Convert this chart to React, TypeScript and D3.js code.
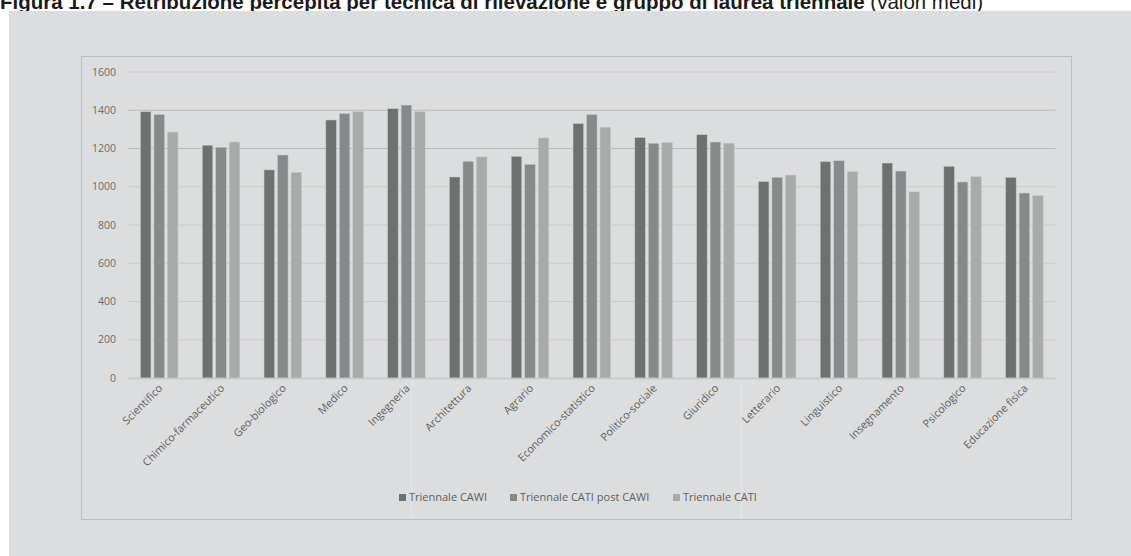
import React, { useEffect, useRef } from "react";
import * as d3 from "d3";

// Gruppi di laurea triennale
const categories: string[] = [
  "Scientifico",
  "Chimico-farmaceutico",
  "Geo-biologico",
  "Medico",
  "Ingegneria",
  "Architettura",
  "Agrario",
  "Economico-statistico",
  "Politico-sociale",
  "Giuridico",
  "Letterario",
  "Linguistico",
  "Insegnamento",
  "Psicologico",
  "Educazione fisica",
];

const seriesNames: string[] = ["Triennale CAWI", "Triennale CATI post CAWI", "Triennale CATI"];

// Retribuzione mensile netta media (euro)
const cawi: number[] = [1392, 1217, 1088, 1349, 1408, 1051, 1159, 1330, 1257, 1272, 1027, 1131, 1124, 1107, 1049];
const catiPostCawi: number[] = [1377, 1206, 1166, 1382, 1427, 1133, 1117, 1377, 1227, 1234, 1049, 1136, 1082, 1025, 967];
const cati: number[] = [1286, 1234, 1075, 1392, 1392, 1156, 1255, 1311, 1232, 1227, 1061, 1079, 973, 1053, 953];

const yTicks: number[] = [0, 200, 400, 600, 800, 1000, 1200, 1400, 1600];

const seriesValues: number[][] = [cawi, catiPostCawi, cati];
const seriesColors: string[] = ["#6d7271", "#878a8a", "#a9aaaa"];

const W = 1131;
const H = 556;

export default function App() {
  const ref = useRef<SVGSVGElement | null>(null);

  useEffect(() => {
    const svg = d3.select(ref.current);
    svg.selectAll("*").remove();

    const font = "'Open Sans', 'DejaVu Sans', sans-serif";

    // Titolo
    const title = svg
      .append("text")
      .attr("x", 0)
      .attr("y", 9)
      .attr("font-family", "'Liberation Sans', Arial, sans-serif")
      .attr("font-size", 20.5)
      .attr("fill", "#1a1a1a");
    title
      .append("tspan")
      .attr("font-weight", "bold")
      .text("Figura 1.7 – Retribuzione percepita per tecnica di rilevazione e gruppo di laurea triennale");
    title.append("tspan").text(" (valori medi)");

    // Pannello di sfondo
    svg.append("rect").attr("x", 9).attr("y", 11).attr("width", W - 9).attr("height", H - 11).attr("fill", "#dcdddf");

    // Riquadro del grafico
    svg
      .append("rect")
      .attr("x", 81.5)
      .attr("y", 56.5)
      .attr("width", 990)
      .attr("height", 463)
      .attr("fill", "#dcdddf")
      .attr("stroke", "#bdbebf")
      .attr("stroke-width", 1);

    const left = 128.3;
    const right = 1055.3;
    const y = d3.scaleLinear().domain([0, 1600]).range([378, 72]);

    const x0 = d3.scaleBand<string>().domain(categories).range([left, right]).paddingInner(0).paddingOuter(0);
    const groupW = 37.5;
    const x1 = d3
      .scaleBand<string>()
      .domain(seriesNames)
      .range([0, groupW])
      .paddingInner(3 / 13.5)
      .paddingOuter(0);
    const groupOffset = (x0.bandwidth() - groupW) / 2;

    // Linee di griglia
    const g = svg.append("g");
    g.selectAll("line.grid")
      .data(yTicks.filter((t) => t > 0))
      .join("line")
      .attr("class", "grid")
      .attr("x1", left)
      .attr("x2", right)
      .attr("y1", (d) => y(d))
      .attr("y2", (d) => y(d))
      .attr("stroke", (d) => (d === 1200 || d === 1400 ? "#babbbc" : "#cbcccd"))
      .attr("stroke-width", 1);

    // Etichette asse Y
    g.selectAll("text.ytick")
      .data(yTicks)
      .join("text")
      .attr("class", "ytick")
      .attr("x", 116)
      .attr("y", (d) => y(d))
      .attr("dy", "0.35em")
      .attr("text-anchor", "end")
      .attr("font-family", font)
      .attr("font-size", 10.5)
      .attr("fill", "#6b6c6d")
      .text((d) => String(d));

    // Barre
    seriesNames.forEach((name, si) => {
      g.append("g")
        .selectAll("rect")
        .data(categories.map((c, i) => ({ c, v: seriesValues[si][i] })))
        .join("rect")
        .attr("x", (d) => (x0(d.c) as number) + groupOffset + (x1(name) as number))
        .attr("y", (d) => y(d.v))
        .attr("width", x1.bandwidth())
        .attr("height", (d) => y(0) - y(d.v))
        .attr("fill", seriesColors[si])
        .attr("stroke", "#c4c5c5")
        .attr("stroke-width", 0.5);
    });

    // Asse orizzontale
    g.append("line")
      .attr("x1", left)
      .attr("x2", right)
      .attr("y1", y(0) + 0.5)
      .attr("y2", y(0) + 0.5)
      .attr("stroke", "#c6c7c8")
      .attr("stroke-width", 1.5);

    // Sottili linee chiare sotto l'asse
    g.selectAll("line.sep")
      .data([411.5, 741.5])
      .join("line")
      .attr("class", "sep")
      .attr("x1", (d) => d)
      .attr("x2", (d) => d)
      .attr("y1", y(0) + 2)
      .attr("y2", 519)
      .attr("stroke", "#e6e7e8")
      .attr("stroke-width", 1);

    // Etichette categorie ruotate
    g.selectAll("text.xtick")
      .data(categories)
      .join("text")
      .attr("class", "xtick")
      .attr("transform", (d) => {
        const cx = (x0(d) as number) + x0.bandwidth() / 2 + 4;
        return `translate(${cx},${389}) rotate(-45)`;
      })
      .attr("text-anchor", "end")
      .attr("font-family", font)
      .attr("font-size", 10.8)
      .attr("fill", "#5f6061")
      .text((d) => d);

    // Legenda
    const legendItems = [
      { name: seriesNames[0], sx: 399, color: seriesColors[0] },
      { name: seriesNames[1], sx: 510, color: seriesColors[1] },
      { name: seriesNames[2], sx: 673, color: seriesColors[2] },
    ];
    const lg = g.append("g");
    legendItems.forEach((it) => {
      lg.append("rect").attr("x", it.sx).attr("y", 494).attr("width", 7).attr("height", 7).attr("fill", it.color);
      lg.append("text")
        .attr("x", it.sx + 10)
        .attr("y", 497.5)
        .attr("dy", "0.35em")
        .attr("font-family", font)
        .attr("font-size", 11)
        .attr("fill", "#5f6061")
        .text(it.name);
    });
  }, []);

  return (
    <div style={{ position: "absolute", left: 0, top: 0, width: W, height: H, background: "#ffffff" }}>
      <svg ref={ref} width={W} height={H} style={{ display: "block" }} />
    </div>
  );
}
